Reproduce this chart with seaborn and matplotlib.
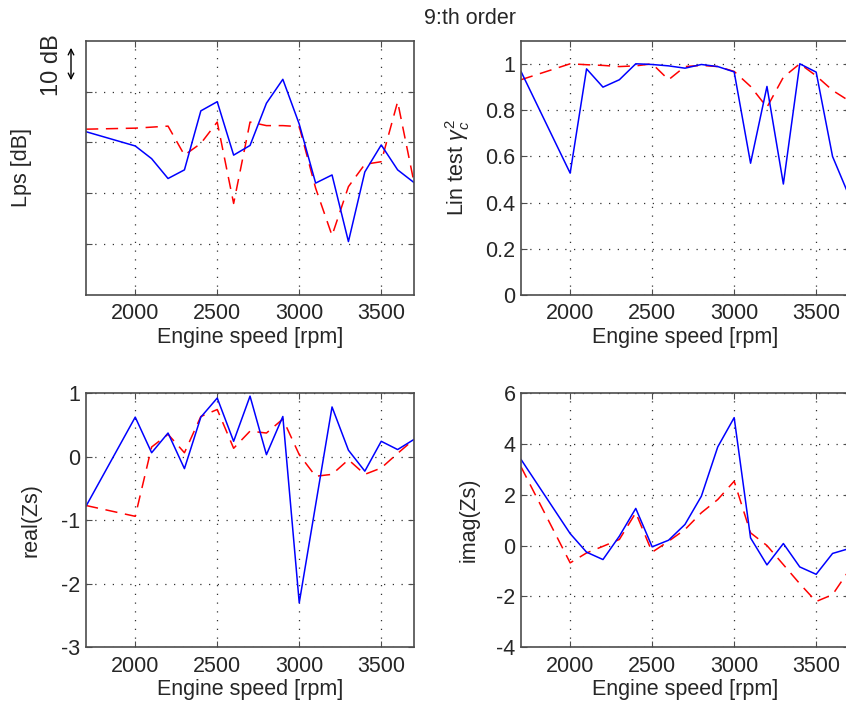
import matplotlib
matplotlib.use('Agg')

import pandas as pd
import matplotlib.pyplot as plt
import seaborn as sns

# ---------------- DATA ----------------
rpm = [1700, 2000, 2100, 2200, 2300, 2400, 2500, 2600, 2700, 2800,
       2900, 3000, 3100, 3200, 3300, 3400, 3500, 3600, 3700]

# Lps [dB] (arbitrary offset, ticks hidden)
lps_meas = [32.1, 29.3, 26.8, 22.9, 24.6, 36.2, 38.0, 27.5, 29.4, 37.7,
            42.4, 33.6, 22.0, 23.6, 10.5, 24.2, 29.5, 24.6, 22.1]
lps_pred = [32.6, 32.8, 33.0, 33.2, 27.5, 29.8, 34.0, 18.0, 34.0, 33.3,
            33.3, 33.1, 21.0, 11.7, 21.3, 25.7, 26.2, 38.0, 22.1]

# Linearity test gamma_c^2
lin_meas = [0.967, 0.527, 0.978, 0.899, 0.931, 1.0, 0.997, 0.991, 0.981, 0.997,
            0.988, 0.965, 0.57, 0.902, 0.48, 1.0, 0.964, 0.599, 0.43]
lin_pred = [0.931, 1.0, 0.996, 0.993, 0.988, 0.991, 1.0, 0.931, 0.988, 0.993,
            0.988, 0.967, 0.902, 0.812, 0.942, 1.0, 0.948, 0.885, 0.84]

# real(Zs)
real_meas = [-0.78, 0.62, 0.06, 0.37, -0.19, 0.62, 0.92, 0.24, 0.95, 0.03,
             0.63, -2.30, -0.76, 0.78, 0.10, -0.23, 0.24, 0.11, 0.27]
real_pred = [-0.77, -0.94, 0.15, 0.35, 0.06, 0.63, 0.74, 0.13, 0.40, 0.37,
             0.59, 0.03, -0.31, -0.28, -0.05, -0.28, -0.18, 0.05, 0.27]

# imag(Zs)
imag_meas = [3.39, 0.47, -0.26, -0.55, 0.37, 1.46, -0.05, 0.21, 0.83, 1.94,
             3.88, 5.03, 0.30, -0.76, 0.08, -0.84, -1.13, -0.31, -0.12]
imag_pred = [3.10, -0.68, -0.29, -0.03, 0.24, 1.29, -0.26, 0.17, 0.63, 1.29,
             1.81, 2.53, 0.50, 0.0, -0.75, -1.50, -2.20, -1.93, -0.98]

x_ticks = [2000, 2500, 3000, 3500]
# ---------------------------------------

sns.set_theme(style="white")
plt.rcParams['font.family'] = ['Liberation Sans', 'DejaVu Sans']
plt.rcParams['mathtext.fontset'] = 'custom'
plt.rcParams['mathtext.rm'] = 'Liberation Sans'
plt.rcParams['mathtext.it'] = 'Liberation Sans:italic'

FS = 15.5

fig = plt.figure(figsize=(8.46, 7.11), dpi=100)

# axes rectangles in figure fractions (right column runs past the figure edge)
W, H = 0.3877, 0.3577
positions = {
    'lps': [0.1017, 0.5851, W, H],
    'lin': [0.6158, 0.5851, W, H],
    'real': [0.1017, 0.0896, W, H],
    'imag': [0.6158, 0.0896, W, H],
}

panels = [
    ('lps', lps_meas, lps_pred, "Lps [dB]", (0, 50), [10, 20, 30, 40], -0.166),
    ('lin', lin_meas, lin_pred, r"Lin test $\gamma_c^2$", (0, 1.1), [0, 0.2, 0.4, 0.6, 0.8, 1], -0.149),
    ('real', real_meas, real_pred, "real(Zs)", (-3, 1), [-3, -2, -1, 0, 1], -0.135),
    ('imag', imag_meas, imag_pred, "imag(Zs)", (-4, 6), [-4, -2, 0, 2, 4, 6], -0.125),
]

for key, meas, pred, ylabel, ylim, yticks, lab_x in panels:
    ax = fig.add_axes(positions[key])
    df = pd.DataFrame({'rpm': rpm, 'meas': meas, 'pred': pred})

    sns.lineplot(data=df, x='rpm', y='pred', ax=ax, color='#ff0000',
                 linewidth=1.1, linestyle=(0, (8, 5)), errorbar=None)
    sns.lineplot(data=df, x='rpm', y='meas', ax=ax, color='#0000ff',
                 linewidth=1.1, errorbar=None)

    ax.set_xlim(1700, 3700)
    ax.set_ylim(*ylim)
    ax.set_xticks(x_ticks)
    ax.set_yticks(yticks)
    ax.set_yticklabels([f"{t:g}" for t in yticks])
    if key == 'lps':
        ax.set_yticklabels([])

    ax.grid(True, color='0.2', linestyle=(0, (1, 6)), linewidth=0.9)
    ax.tick_params(direction='in', length=4, width=0.8, labelsize=FS,
                   top=True, right=True, bottom=True, left=True, color='0.3')
    ax.tick_params(axis='x', pad=6)
    ax.tick_params(axis='y', pad=4)
    for sp in ax.spines.values():
        sp.set_color('0.3')
        sp.set_linewidth(1.2)

    ax.set_xlabel("Engine speed [rpm]", fontsize=FS)
    ax.set_ylabel(ylabel, fontsize=FS)
    ax.xaxis.set_label_coords(0.5, -0.125)
    ax.yaxis.set_label_coords(lab_x, 0.5)

# title
fig.text(470 / 846, 1 - 18 / 711, "9:th order", ha='center', va='center', fontsize=FS)

# 10 dB scale marker
fig.text(52 / 846, 1 - 65 / 711, "10 dB", rotation=90, ha='center', va='center', fontsize=17)
fig.add_artist(matplotlib.patches.FancyArrowPatch(
    (71 / 846, 1 - 45 / 711), (71 / 846, 1 - 83 / 711),
    transform=fig.transFigure, arrowstyle='<->', mutation_scale=10,
    color='black', linewidth=1.0))

fig.savefig("out.png", dpi=100)
